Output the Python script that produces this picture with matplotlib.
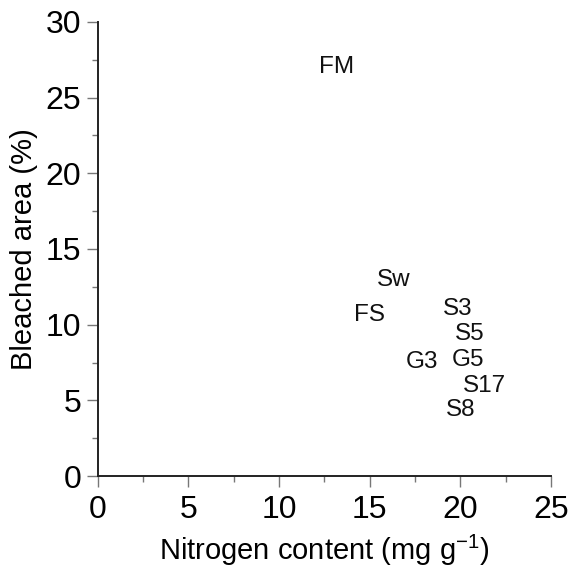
import matplotlib
matplotlib.use("Agg")
import matplotlib.pyplot as plt
from matplotlib.ticker import MultipleLocator

plt.rcParams['font.family'] = ['Liberation Sans', 'DejaVu Sans']
plt.rcParams['mathtext.default'] = 'regular'

# data: label positions (nitrogen content, bleached area)
names = ['FM', 'Sw', 'FS', 'S3', 'S5', 'G3', 'G5', 'S17', 'S8']
nitrogen = [13.2, 16.3, 15.0, 19.85, 20.5, 17.9, 20.4, 21.35, 20.0]
bleached = [27.05, 12.95, 10.65, 11.05, 9.35, 7.55, 7.65, 5.95, 4.35]

fig = plt.figure(figsize=(5.72, 5.77), dpi=100)
ax = fig.add_axes([0.1708, 0.175, 0.7925, 0.787])

for n, x, y in zip(names, nitrogen, bleached):
    ax.text(x, y, n, ha='center', va='center', fontsize=17.5, color='#111111')

ax.set_xlim(0, 25)
ax.set_ylim(0, 30)
ax.xaxis.set_major_locator(MultipleLocator(5))
ax.xaxis.set_minor_locator(MultipleLocator(2.5))
ax.yaxis.set_major_locator(MultipleLocator(5))
ax.yaxis.set_minor_locator(MultipleLocator(2.5))

for s in ['top', 'right']:
    ax.spines[s].set_visible(False)
for s in ['left', 'bottom']:
    ax.spines[s].set_linewidth(1.4)
    ax.spines[s].set_color('#222222')

ax.tick_params(which='major', length=8, width=1.0, color='#777777', labelsize=23)
ax.tick_params(which='minor', length=4.5, width=1.0, color='#777777')
ax.tick_params(axis='x', which='major', pad=5.5)
ax.tick_params(axis='y', which='major', pad=4)

ax.set_xlabel('Nitrogen content (mg g$^{-1}$)', fontsize=21, labelpad=6)
ax.set_ylabel('Bleached area (%)', fontsize=21, labelpad=5)

fig.savefig('out.png', dpi=100)
